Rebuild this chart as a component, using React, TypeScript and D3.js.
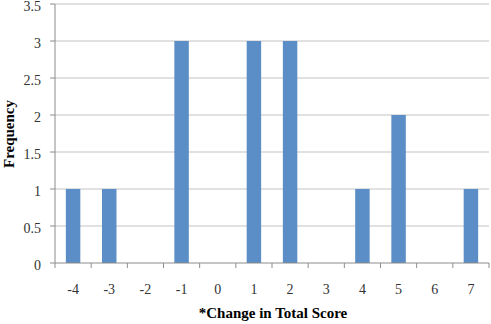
import React from "react";
import * as d3 from "d3";

const categories = ["-4", "-3", "-2", "-1", "0", "1", "2", "3", "4", "5", "6", "7"];
const frequencies = [1, 1, 0, 3, 0, 3, 3, 0, 1, 2, 0, 1];
const yTicks = [0, 0.5, 1, 1.5, 2, 2.5, 3, 3.5];
const yTickLabels = ["0", "0.5", "1", "1.5", "2", "2.5", "3", "3.5"];
const xTitle = "*Change in Total Score";
const yTitle = "Frequency";

export default function App() {
  const W = 491, H = 324;
  const left = 55, right = 489, top = 4, bottom = 263;
  const xb = d3.scaleBand<string>().domain(categories).range([left, right]);
  const y = d3.scaleLinear().domain([0, 3.5]).range([bottom, top]);
  const font = "'Liberation Serif', 'Times New Roman', serif";
  const bw = xb.bandwidth() * 0.4;
  return (
    <svg width={W} height={H} style={{ position: "absolute", left: 0, top: 0, background: "#fff" }}>
      {yTicks.map((t, i) => (
        <g key={"y" + i}>
          {t > 0 && <line x1={left} x2={right} y1={y(t)} y2={y(t)} stroke="#c3c3c3" strokeWidth={1} />}
          <line x1={left - 5} x2={left} y1={y(t)} y2={y(t)} stroke="#8c8c8c" />
          <text x={41} y={y(t) + 2.5} dy="0.35em" textAnchor="end" fontFamily={font} fontSize={14} fill="#333">
            {yTickLabels[i]}
          </text>
        </g>
      ))}
      {categories.map((c, i) => (
        <rect key={c} x={(xb(c) as number) + (xb.bandwidth() - bw) / 2} width={bw}
          y={y(frequencies[i])} height={bottom - y(frequencies[i])} fill="#5b8ec6" />
      ))}
      <line x1={left} x2={left} y1={top} y2={bottom} stroke="#8c8c8c" />
      <line x1={left} x2={right} y1={bottom} y2={bottom} stroke="#8c8c8c" />
      {d3.range(categories.length + 1).map((i) => {
        const px = left + i * xb.step();
        return <line key={"xt" + i} x1={px} x2={px} y1={bottom} y2={bottom + 5} stroke="#8c8c8c" />;
      })}
      {categories.map((c) => (
        <text key={"xl" + c} x={(xb(c) as number) + xb.bandwidth() / 2} y={289} dy="0.35em"
          textAnchor="middle" fontFamily={font} fontSize={14} fill="#333">
          {c}
        </text>
      ))}
      <text x={273} y={313} dy="0.35em" textAnchor="middle" fontFamily={font} fontSize={15} fontWeight="bold" fill="#000">
        {xTitle}
      </text>
      <text transform={`translate(9,134) rotate(-90)`} textAnchor="middle" dy="0.35em" fontFamily={font}
        fontSize={15} fontWeight="bold" fill="#000">
        {yTitle}
      </text>
    </svg>
  );
}
